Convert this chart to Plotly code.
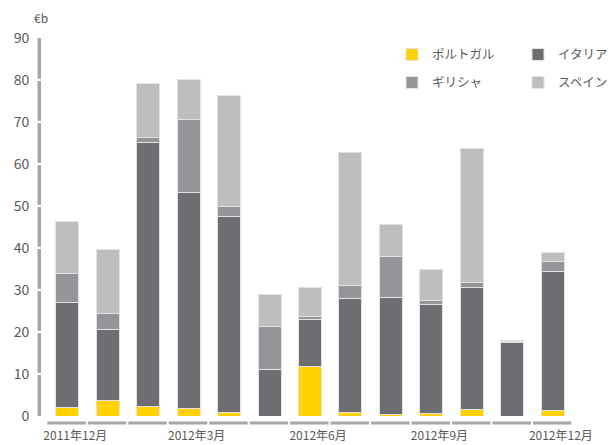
import plotly.graph_objects as go

months = ["2011年12月", "2012年1月", "2012年2月", "2012年3月", "2012年4月", "2012年5月",
          "2012年6月", "2012年7月", "2012年8月", "2012年9月", "2012年10月", "2012年11月", "2012年12月"]
portugal = [2.1, 3.8, 2.2, 1.7, 0.9, 0.0, 11.9, 0.9, 0.4, 0.6, 1.6, 0.0, 1.4]
italy = [25.0, 16.7, 63.0, 51.4, 46.7, 11.0, 11.0, 27.0, 27.8, 25.9, 29.1, 17.5, 32.9]
greece = [6.9, 4.0, 1.0, 17.4, 2.2, 10.2, 0.7, 3.1, 9.7, 1.0, 1.2, 0.3, 2.4]
spain = [12.4, 15.2, 13.0, 9.7, 26.5, 7.7, 7.1, 31.8, 7.6, 7.3, 31.7, 0.1, 2.3]
label_idx = [0, 3, 6, 9, 12]
y_ticks = [0, 10, 20, 30, 40, 50, 60, 70, 80, 90]

FONT = "Noto Sans CJK JP"
TXT = "#595959"
AX = "#a6a6a6"

series = [
    ("ポルトガル", portugal, "#FFD200", "legend"),
    ("イタリア", italy, "#6D6E71", "legend"),
    ("ギリシャ", greece, "#939598", "legend2"),
    ("スペイン", spain, "#BCBEC0", "legend2"),
]

x = list(range(len(months)))
fig = go.Figure()
for name, vals, col, lg in series:
    fig.add_trace(go.Bar(
        x=x, y=vals, name=name, legend=lg,
        marker=dict(color=col, line=dict(color="#e2e2e2", width=1)),
        hovertext=months,
    ))

shapes = []
# segmented y axis line
for a, b in zip(y_ticks[:-1], y_ticks[1:]):
    shapes.append(dict(type="line", xref="paper", yref="y", x0=-0.0147, x1=-0.0147,
                       y0=a + (0.0 if a == 0 else 0.3), y1=b - (0.0 if b == 90 else 0.25),
                       line=dict(color=AX, width=3.5)))
# segmented x axis line
for i in x:
    shapes.append(dict(type="line", xref="x", yref="paper", x0=i - 0.49, x1=i + 0.46,
                       y0=-0.0185, y1=-0.0185, line=dict(color=AX, width=3)))

leg_common = dict(orientation="h", xanchor="right", yanchor="top",
                  entrywidth=81, entrywidthmode="pixels", traceorder="normal",
                  font=dict(size=12.5, color=TXT, family=FONT), bgcolor="rgba(0,0,0,0)")

fig.update_layout(
    barmode="stack",
    bargap=0.43,
    width=611, height=445,
    margin=dict(l=46.75, r=37.75, t=38, b=29, autoexpand=False),
    paper_bgcolor="white", plot_bgcolor="white",
    font=dict(family=FONT, color=TXT, size=13),
    shapes=shapes,
    xaxis=dict(range=[-0.5, 12.5], tickvals=[x[i] + 0.2 for i in label_idx],
               ticktext=[months[i] for i in label_idx], showgrid=False, zeroline=False,
               showline=False, ticks="outside", ticklen=9, tickcolor="rgba(0,0,0,0)",
               automargin=False,
               tickfont=dict(size=12, color=TXT, family=FONT)),
    yaxis=dict(range=[0, 90], tickvals=y_ticks, showgrid=False, zeroline=False,
               showline=False, ticks="outside", ticklen=14, tickcolor="rgba(0,0,0,0)",
               automargin=False,
               tickfont=dict(size=14, color=TXT, family=FONT)),
    legend=dict(x=1.135, y=0.995, **leg_common),
    legend2=dict(x=1.135, y=0.921, **leg_common),
    annotations=[dict(text="€b", xref="paper", yref="paper", x=-0.012, y=1.055,
                      xanchor="center", yanchor="middle", showarrow=False,
                      font=dict(size=12, color=TXT, family=FONT))],
)

fig.write_html("out.html")
